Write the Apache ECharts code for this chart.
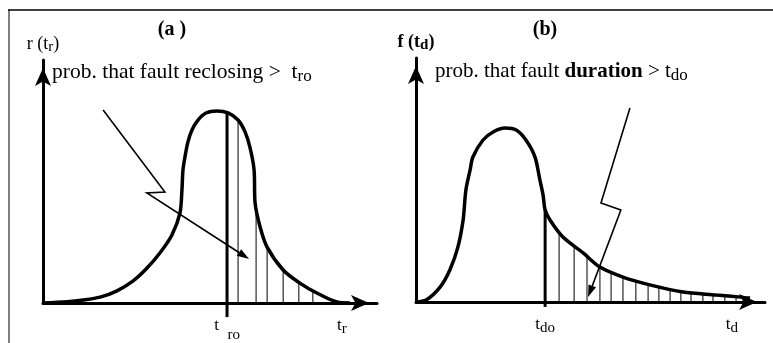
<!DOCTYPE html>
<html>
<head>
<meta charset="utf-8">
<script src="https://cdn.jsdelivr.net/npm/echarts@6/dist/echarts.min.js"></script>
<style>
html, body { margin: 0; padding: 0; background: #fff; }
#chart { width: 773px; height: 343px; }
</style>
</head>
<body>
<div id="chart"></div>
<script>
// Both panels use normalised axes running 0..100 from the origin to the arrow tips.

// (a) density of the reclosing time t_r
const reclosingCurve = [
  [0, 0], [7.2, 0.5], [12.0, 1.2], [17.1, 2.4], [22.0, 4.9], [26.9, 9.0],
  [31.0, 14.2], [35.0, 20.6], [38.6, 28.0], [41.0, 37.0], [41.6, 46.5],
  [41.9, 54.7], [42.5, 60.1], [43.4, 66.3], [44.6, 71.2], [46.4, 75.3],
  [48.8, 78.2], [52.1, 79.0], [55.4, 78.2], [58.4, 75.3], [60.5, 70.4],
  [62.0, 63.8], [63.2, 54.7], [63.5, 41.2], [65.0, 31.3], [67.1, 23.0],
  [71.9, 13.6], [76.9, 8.2], [82.0, 4.1], [88.0, 0.4], [91.9, 0]
];
const tro = 55.1;                      // reclosing threshold t_ro
const troLine = [[tro, -5.8], [tro, 78.2]];
const hatchA = [[58.4, 75.3], [63.8, 38], [67.1, 23.0], [71.9, 13.6], [76.6, 8.4], [80.8, 4.8]];
const pointerA = [[18.0, 79.4], [36.5, 45.7], [31.1, 45.3], [61.7, 18.1]];
const labelValuesA = [tro, 89.5];      // t_ro, t_r

// (b) density of the fault duration t_d
const durationCurve = [
  [0, 0], [2.9, 0.8], [6.9, 6.1], [9.7, 13.1], [12.0, 22.5], [13.5, 33.6],
  [14.3, 45.9], [15.5, 54.1], [16.3, 59.4], [19.2, 66.4], [22.1, 69.7],
  [25.5, 71.3], [28.7, 70.5], [31.5, 66.4], [34.1, 59.4], [35.5, 50.0],
  [36.4, 43.9], [37.0, 37.7], [38.4, 33.6], [42.1, 26.6], [47.9, 20.1],
  [52.7, 14.3], [59.3, 10.2], [67.0, 7.0], [76.5, 4.1], [86.0, 2.9],
  [93.1, 2.0], [95.7, 1.6]
];
const tdo = 37.0;                      // duration threshold t_do
const tdoLine = [[tdo, -2.0], [tdo, 37.7]];
const hatchB = [
  [41.0, 28.5], [45.3, 23.0], [49.0, 19.0], [52.7, 14.5], [55.9, 12.2], [59.3, 10.2],
  [63.0, 8.6], [66.5, 7.2], [69.6, 6.2], [72.8, 5.3], [75.9, 4.4], [78.8, 3.9],
  [82.2, 3.4], [85.1, 3.0], [88.5, 2.6], [91.7, 2.2]
];
const pointerB = [[61.3, 79.5], [53.0, 40.6], [58.7, 37.7], [49.3, 2.0]];
const labelValuesB = [tdo, 90.5];      // t_do, t_d

const SERIF = "'Liberation Serif', 'Times New Roman', serif";
const INK = '#000';

const tickRich = {
  m: { fontFamily: SERIF, fontSize: 17, color: INK, lineHeight: 22 },
  s: { fontFamily: SERIF, fontSize: 15, color: INK, lineHeight: 12, verticalAlign: 'bottom' },
  d: { fontFamily: SERIF, fontSize: 15, color: INK, lineHeight: 8, verticalAlign: 'bottom', padding: [0, 0, -6, 0] }
};
const nameRich = {
  m: { fontFamily: SERIF, fontSize: 18, color: INK, lineHeight: 22 },
  s: { fontFamily: SERIF, fontSize: 15, color: INK, lineHeight: 12, verticalAlign: 'bottom' }
};
const boldNameRich = {
  m: { fontFamily: SERIF, fontSize: 18, fontWeight: 'bold', color: INK, lineHeight: 22 },
  s: { fontFamily: SERIF, fontSize: 15, fontWeight: 'bold', color: INK, lineHeight: 12, verticalAlign: 'bottom' }
};

function xAxisFor(gi, values, fmt) {
  return {
    gridIndex: gi, type: 'value', min: 0, max: 100,
    axisLine: {
      onZero: false,
      lineStyle: { color: INK, width: 3 },
      symbol: ['none', 'arrow'], symbolSize: [12, 18], symbolOffset: [0, -8]
    },
    axisTick: { show: false },
    splitLine: { show: false },
    axisLabel: {
      customValues: values, margin: 12, formatter: fmt, rich: tickRich,
      showMinLabel: true, showMaxLabel: true
    }
  };
}
function yAxisFor(gi, name, rich, gap) {
  return {
    gridIndex: gi, type: 'value', min: 0, max: 100,
    name: name, nameLocation: 'end', nameGap: gap, nameTextStyle: { rich: rich },
    axisLine: {
      onZero: false,
      lineStyle: { color: INK, width: 3 },
      symbol: ['none', 'arrow'], symbolSize: [12, 18], symbolOffset: [0, -8]
    },
    axisTick: { show: false },
    splitLine: { show: false },
    axisLabel: { show: false }
  };
}

function curveSeries(data, gi) {
  return {
    type: 'line', xAxisIndex: gi, yAxisIndex: gi, data: data,
    smooth: 0.3, symbol: 'none', clip: false, silent: true, z: 4,
    lineStyle: { color: INK, width: 3.5 }
  };
}
function thresholdSeries(data, gi) {
  return {
    type: 'line', xAxisIndex: gi, yAxisIndex: gi, data: data,
    symbol: 'none', clip: false, silent: true, z: 4,
    lineStyle: { color: INK, width: 3 }
  };
}
function hatchSeries(data, gi) {
  return {
    type: 'custom', xAxisIndex: gi, yAxisIndex: gi, data: data,
    encode: { x: 0, y: 1 }, clip: false, silent: true, z: 3,
    renderItem: function (params, api) {
      const x = api.value(0);
      const p0 = api.coord([x, 0]);
      const p1 = api.coord([x, api.value(1)]);
      return {
        type: 'line',
        shape: { x1: p0[0], y1: p0[1], x2: p1[0], y2: p1[1] },
        style: { stroke: INK, lineWidth: 1 }
      };
    }
  };
}
// Zig-zag pointer ending in a filled arrow head
function pointerSeries(points, gi) {
  return {
    type: 'custom', xAxisIndex: gi, yAxisIndex: gi, data: [points[0]],
    encode: { x: 0, y: 1 }, clip: false, silent: true, z: 5,
    renderItem: function (params, api) {
      const px = points.map(function (p) { return api.coord(p); });
      const a = px[px.length - 2], b = px[px.length - 1];
      const ang = Math.atan2(b[1] - a[1], b[0] - a[0]);
      const L = 12, W = 4;
      const bx = b[0] - L * Math.cos(ang), by = b[1] - L * Math.sin(ang);
      const nx = -Math.sin(ang) * W, ny = Math.cos(ang) * W;
      return {
        type: 'group',
        children: [
          { type: 'polyline', shape: { points: px.slice(0, -1).concat([[bx, by]]) },
            style: { stroke: INK, lineWidth: 1.6, fill: null } },
          { type: 'polygon', shape: { points: [b, [bx + nx, by + ny], [bx - nx, by - ny]] },
            style: { fill: INK } }
        ]
      };
    }
  };
}

const chart = echarts.init(document.getElementById('chart'), null, { renderer: 'canvas' });
chart.setOption({
  animation: false,
  backgroundColor: '#fff',
  grid: [
    { left: 43, top: 60, width: 334, height: 243 },
    { left: 416, top: 58, width: 349, height: 244 }
  ],
  xAxis: [
    xAxisFor(0, labelValuesA, function (v) { return v === tro ? '{m|t  }{d|ro}' : '{m|t}{s|r}'; }),
    xAxisFor(1, labelValuesB, function (v) { return v === tdo ? '{m|t}{s|do}' : '{m|t}{s|d}'; })
  ],
  yAxis: [
    yAxisFor(0, '{m|r (t}{s|r}{m|)}', nameRich, 5),
    yAxisFor(1, '{m|f (t}{s|d}{m|)}', boldNameRich, 5)
  ],
  series: [
    hatchSeries(hatchA, 0),
    curveSeries(reclosingCurve, 0),
    thresholdSeries(troLine, 0),
    pointerSeries(pointerA, 0),
    hatchSeries(hatchB, 1),
    curveSeries(durationCurve, 1),
    thresholdSeries(tdoLine, 1),
    pointerSeries(pointerB, 1)
  ],
  graphic: [
    // frame
    { type: 'line', shape: { x1: 8, y1: 10, x2: 773, y2: 10 }, style: { stroke: INK, lineWidth: 1.5 }, silent: true },
    { type: 'line', shape: { x1: 9, y1: 10, x2: 9, y2: 343 }, style: { stroke: INK, lineWidth: 1 }, silent: true },
    // panel titles
    { type: 'text', x: 172, y: 30, silent: true,
      style: { text: '(a )', font: 'bold 20px ' + SERIF, fill: INK, align: 'center', verticalAlign: 'middle' } },
    { type: 'text', x: 545, y: 30, silent: true,
      style: { text: '(b)', font: 'bold 20px ' + SERIF, fill: INK, align: 'center', verticalAlign: 'middle' } },
    // annotations
    { type: 'text', x: 52, y: 60, silent: true,
      style: {
        text: '{n|prob. that fault reclosing >  t}{s|ro}',
        rich: {
          n: { fontFamily: SERIF, fontSize: 21.5, color: INK, lineHeight: 25 },
          s: { fontFamily: SERIF, fontSize: 17, color: INK, lineHeight: 13, verticalAlign: 'bottom' }
        }
      } },
    { type: 'text', x: 435, y: 59, silent: true,
      style: {
        text: '{n|prob. that fault }{b|duration}{n| > t}{s|do}',
        rich: {
          n: { fontFamily: SERIF, fontSize: 21, color: INK, lineHeight: 25 },
          b: { fontFamily: SERIF, fontSize: 21, fontWeight: 'bold', color: INK, lineHeight: 25 },
          s: { fontFamily: SERIF, fontSize: 17, color: INK, lineHeight: 13, verticalAlign: 'bottom' }
        }
      } }
  ]
});
</script>
</body>
</html>
